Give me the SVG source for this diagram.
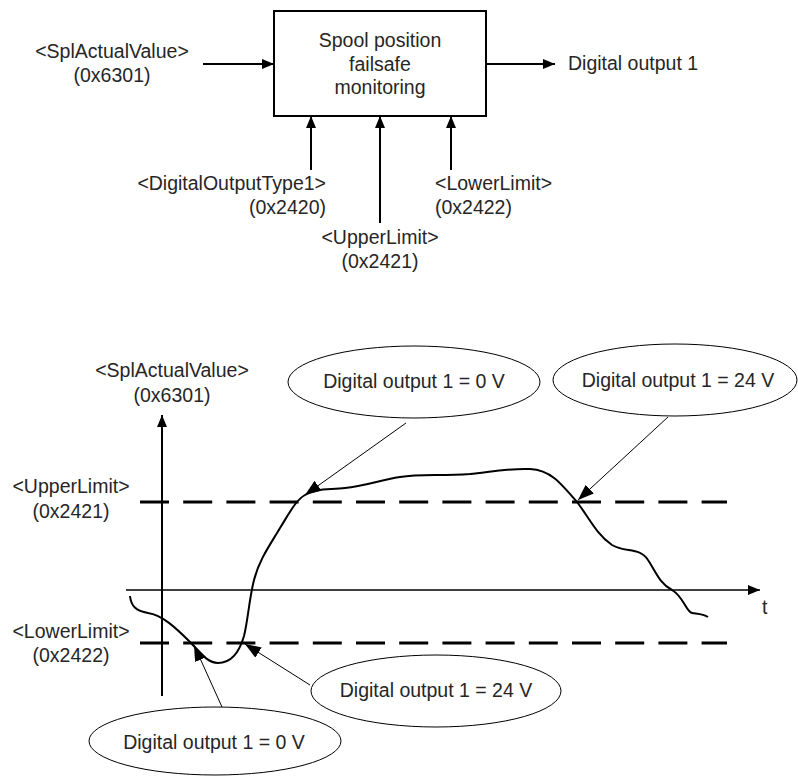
<svg xmlns="http://www.w3.org/2000/svg" width="798" height="776" viewBox="0 0 798 776">
<style>
text{font-family:"Liberation Sans",Arial,sans-serif;font-size:19.5px;fill:#262626}
.c{text-anchor:middle}.e{text-anchor:end}
.conn{stroke:#000;stroke-width:2;fill:none}
.ptr{stroke:#000;stroke-width:1;fill:none}
.dash{stroke:#000;stroke-width:2.8;stroke-dasharray:29 14.2;fill:none}
.ell{fill:#fff;stroke:#000;stroke-width:1}
</style>
<defs>
<marker id="arr" markerUnits="userSpaceOnUse" markerWidth="12" markerHeight="10" refX="12" refY="5" orient="auto"><path d="M0,0L12,5L0,10z" fill="#000"/></marker>
<marker id="ap" markerUnits="userSpaceOnUse" markerWidth="16" markerHeight="12" refX="16" refY="6" orient="auto"><path d="M0,0L16,6L0,12z" fill="#000"/></marker>
</defs>
<g id="block">
<rect x="274" y="11" width="212" height="105" fill="#fff" stroke="#000" stroke-width="2"/>
<text class="c" x="380" y="47">Spool position</text>
<text class="c" x="380" y="70.5">failsafe</text>
<text class="c" x="380" y="94">monitoring</text>
</g>
<g id="lbl-in">
<text class="c" x="112" y="58">&lt;SplActualValue&gt;</text>
<text class="c" x="112" y="82">(0x6301)</text>
</g>
<g id="lbl-out"><text x="568" y="70">Digital output 1</text></g>
<g id="lbl-type">
<text class="e" x="326" y="190">&lt;DigitalOutputType1&gt;</text>
<text class="e" x="326" y="214">(0x2420)</text>
</g>
<g id="lbl-upper">
<text class="c" x="380" y="244">&lt;UpperLimit&gt;</text>
<text class="c" x="380" y="268">(0x2421)</text>
</g>
<g id="lbl-lower">
<text x="435" y="190">&lt;LowerLimit&gt;</text>
<text x="435" y="214">(0x2422)</text>
</g>
<g id="connectors">
<line class="conn" x1="203" y1="64" x2="274" y2="64" marker-end="url(#arr)"/>
<line class="conn" x1="486" y1="64" x2="555" y2="64" marker-end="url(#arr)"/>
<line class="conn" x1="311" y1="170" x2="311" y2="116" marker-end="url(#arr)"/>
<line class="conn" x1="380" y1="223" x2="380" y2="116" marker-end="url(#arr)"/>
<line class="conn" x1="451" y1="170" x2="451" y2="116" marker-end="url(#arr)"/>
</g>
<g id="chart">
<line class="conn" x1="162" y1="696" x2="162" y2="415" marker-end="url(#arr)"/>
<line x1="126" y1="590" x2="760" y2="590" stroke="#000" stroke-width="1.6" marker-end="url(#arr)"/>
<line class="dash" x1="140" y1="502" x2="727" y2="502"/>
<line class="dash" x1="140" y1="643" x2="727" y2="643"/>
<path class="conn" d="M130,596 C131,606 136,611 148,613 C162,615 175,627 190,642 C200,652 207,663 218,663 C232,663 240,650 244,636 C248,620 249,600 254,580 C259,560 270,545 280,528 C290,512 296,500 305,495 C315,488 330,490 345,488 C365,486 380,480 400,477 C420,474 440,476 470,474 C490,472 510,468 530,469 C550,470 560,482 577,502 C588,516 596,534 612,545 C625,553 640,547 648,560 C656,572 660,584 672,590 C684,597 686,612 692,613 C698,614 703,614 708,617"/>
<text class="c" x="172" y="377">&lt;SplActualValue&gt;</text>
<text class="c" x="172" y="402">(0x6301)</text>
<text class="c" x="71" y="493">&lt;UpperLimit&gt;</text>
<text class="c" x="71" y="518">(0x2421)</text>
<text class="c" x="71" y="638">&lt;LowerLimit&gt;</text>
<text class="c" x="71" y="662">(0x2422)</text>
<text x="762" y="614">t</text>
</g>
<g id="pointers">
<line class="ptr" x1="406" y1="423" x2="305" y2="495" marker-end="url(#ap)"/>
<line class="ptr" x1="668" y1="417" x2="578" y2="500" marker-end="url(#ap)"/>
<line class="ptr" x1="310" y1="685" x2="245" y2="644" marker-end="url(#ap)"/>
<line class="ptr" x1="222" y1="707" x2="194" y2="645" marker-end="url(#ap)"/>
</g>
<g id="callout1">
<ellipse class="ell" cx="414" cy="382" rx="126" ry="36"/>
<text class="c" x="414" y="388">Digital output 1 = 0 V</text>
</g>
<g id="callout2">
<ellipse class="ell" cx="675" cy="380" rx="122" ry="36"/>
<text class="c" x="678" y="387">Digital output 1 = 24 V</text>
</g>
<g id="callout3">
<ellipse class="ell" cx="436" cy="691" rx="125" ry="36"/>
<text class="c" x="436" y="697">Digital output 1 = 24 V</text>
</g>
<g id="callout4">
<ellipse class="ell" cx="215" cy="741" rx="126" ry="34"/>
<text class="c" x="214" y="749">Digital output 1 = 0 V</text>
</g>
</svg>
